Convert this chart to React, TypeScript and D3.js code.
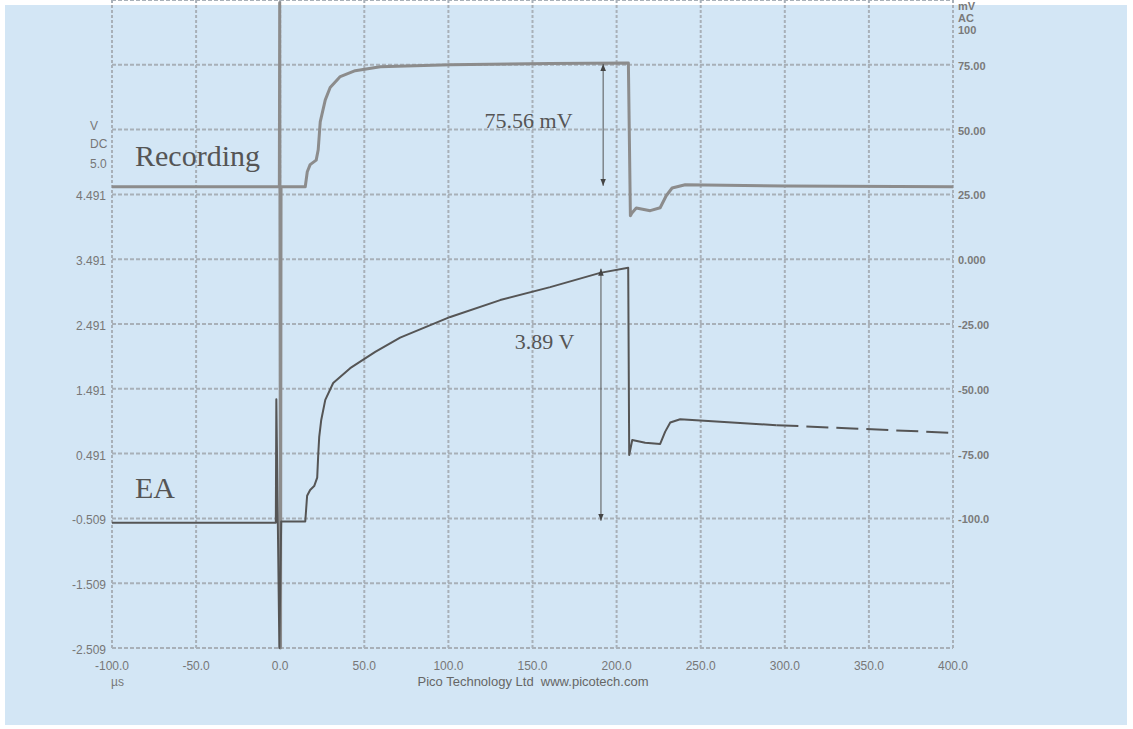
import React from 'react';
import * as d3 from 'd3';

// time axis (µs)
const timeTicks = [-100, -50, 0, 50, 100, 150, 200, 250, 300, 350, 400];
const timeTickLabels = ['-100.0', '-50.0', '0.0', '50.0', '100.0', '150.0', '200.0', '250.0', '300.0', '350.0', '400.0'];

// voltage grid (left axis, V)
const voltGrid = [7.491, 6.491, 5.491, 4.491, 3.491, 2.491, 1.491, 0.491, -0.509, -1.509, -2.509];
const leftTickValues = [4.491, 3.491, 2.491, 1.491, 0.491, -0.509, -1.509, -2.509];
const leftTickLabels = ['4.491', '3.491', '2.491', '1.491', '0.491', '-0.509', '-1.509', '-2.509'];
const leftHeader = ['V', 'DC', '5.0'];

// right axis (second channel) - barely legible in the source
const rightTickValues = [6.491, 5.491, 4.491, 3.491, 2.491, 1.491, 0.491, -0.509];
const rightTickLabels = ['75.00', '50.00', '25.00', '0.000', '-25.00', '-50.00', '-75.00', '-100.0'];
const rightHeader = ['mV', 'AC', '100'];

// Recording trace, plotted on the left grid
const recordingTimes = [-100, -0.5, -0.3, 0.2, 0.5, 14.9, 16.1, 17.8, 21.4, 22.6, 23.8, 26.8, 29.7, 35.7, 44.6, 59.5, 101, 160.5, 207, 208.2, 209, 211.7, 220, 225.9, 229.5, 233, 240.8, 300, 400];
const recordingVolts = [4.608, 4.608, 7.45, -2.509, 4.608, 4.608, 4.84, 4.95, 5.02, 5.18, 5.61, 5.95, 6.14, 6.31, 6.40, 6.46, 6.49, 6.51, 6.52, 4.16, 4.2, 4.28, 4.24, 4.285, 4.47, 4.59, 4.64, 4.62, 4.608];

// EA trace
const eaTimes = [-100, -2.6, -2.3, -0.5, 0.6, 14.9, 16, 17.8, 20.2, 22, 22.6, 23.2, 24.4, 26.8, 31.5, 41.6, 56.5, 71.3, 101.1, 130.8, 160.5, 190.2, 206.9, 207.5, 209.3, 217, 225.9, 228.9, 231.9, 237.8, 249.7, 295];
const eaVolts = [-0.577, -0.577, 1.33, -2.509, -0.557, -0.557, -0.16, -0.07, -0.01, 0.12, 0.47, 0.75, 1.01, 1.32, 1.58, 1.81, 2.06, 2.28, 2.60, 2.86, 3.06, 3.28, 3.36, 0.47, 0.70, 0.66, 0.64, 0.83, 0.97, 1.02, 1.00, 0.93];
const eaTailTimes = [295, 340, 400];
const eaTailVolts = [0.93, 0.88, 0.81];

// measurement annotations
const annotTimes = [192, 190.7];
const annotTop = [6.52, 3.36];
const annotBottom = [4.608, -0.56];
const annotLabels = ['75.56 mV', '3.89 V'];
const annotLabelTimes = [121.5, 139.5];
const annotLabelVolts = [5.51, 2.1];

const W = 1133;
const H = 729;
const x = d3.scaleLinear().domain([-100, 400]).range([112, 953]);
const y = d3.scaleLinear().domain([-2.509, 7.491]).range([648, 0]);

const sans = '"Liberation Sans", Arial, sans-serif';
const serif = '"Liberation Serif", "Times New Roman", serif';

const line = d3.line<[number, number]>().x(d => x(d[0])).y(d => y(d[1]));
const zip = (a: number[], b: number[]) => a.map((t, i) => [t, b[i]] as [number, number]);

export default function App() {
  const gridColor = '#a8b0b8';
  return (
    <svg width={W} height={H} style={{position: 'absolute', left: 0, top: 0}}>
      <defs>
        <marker id="ah" viewBox="0 0 10 10" refX="10" refY="5" markerWidth="7" markerHeight="9" orient="auto-start-reverse" markerUnits="userSpaceOnUse">
          <path d="M0,1 L10,5 L0,9 Z" fill="#444" />
        </marker>
      </defs>
      <rect x={0} y={0} width={W} height={H} fill="#ffffff" />
      <rect x={5} y={5} width={1122} height={720} fill="#d3e6f5" />

      {/* grid */}
      <g>
        {timeTicks.map(t => (
          <line key={'v' + t} x1={x(t)} x2={x(t)} y1={y(7.491)} y2={y(-2.509)}
            stroke={gridColor} strokeWidth={2} strokeDasharray="3 2" />
        ))}
        {voltGrid.map(v => (
          <line key={'h' + v} x1={x(-100)} x2={x(400)} y1={y(v)} y2={y(v)}
            stroke={gridColor} strokeWidth={2} strokeDasharray="4 2" />
        ))}
      </g>

      {/* left axis */}
      <g fontFamily={sans} fontSize={12} fill="#777">
        {leftTickValues.map((v, i) => (
          <text key={v} x={106} y={y(v) + 6} textAnchor="end">{leftTickLabels[i]}</text>
        ))}
        {leftHeader.map((s, i) => (
          <text key={s} x={90} y={130 + i * 18 + (i === 2 ? 2 : 0)}>{s}</text>
        ))}
      </g>

      {/* right axis */}
      <g fontFamily={sans} fontSize={11} fill="#7a7a7a" fontWeight="bold">
        {rightTickValues.map((v, i) => (
          <text key={v} x={958} y={y(v) + 5}>{rightTickLabels[i]}</text>
        ))}
        {rightHeader.map((s, i) => (
          <text key={s} x={958} y={10 + i * 12}>{s}</text>
        ))}
      </g>

      {/* bottom axis */}
      <g fontFamily={sans} fontSize={12} fill="#777">
        {timeTicks.map((t, i) => (
          <text key={t} x={x(t)} y={670} textAnchor="middle">{timeTickLabels[i]}</text>
        ))}
        <text x={111} y={686}>µs</text>
        <text x={533} y={686} textAnchor="middle" fontSize={13} fill="#666">{'Pico Technology Ltd\u00a0\u00a0www.picotech.com'}</text>
      </g>

      {/* traces */}
      <path d={line(zip(recordingTimes, recordingVolts)) || ''} fill="none" stroke="#8c8c8c" strokeWidth={3} strokeLinejoin="round" />
      <path d={line(zip(eaTimes, eaVolts)) || ''} fill="none" stroke="#555" strokeWidth={2} strokeLinejoin="round" />
      <path d={line(zip(eaTailTimes, eaTailVolts)) || ''} fill="none" stroke="#555" strokeWidth={2} strokeDasharray="22 8" />

      {/* annotations */}
      {annotTimes.map((t, i) => (
        <g key={'a' + i}>
          <line x1={x(t)} x2={x(t)} y1={y(annotTop[i]) + 1} y2={y(annotBottom[i]) - 1}
            stroke="#555" strokeWidth={1} markerStart="url(#ah)" markerEnd="url(#ah)" />
          <text x={x(annotLabelTimes[i])} y={y(annotLabelVolts[i])} fontFamily={serif} fontSize={22} fill="#555">{annotLabels[i]}</text>
        </g>
      ))}

      <text x={135} y={166} fontFamily={serif} fontSize={30} fill="#555">Recording</text>
      <text x={135} y={498} fontFamily={serif} fontSize={30} fill="#555">EA</text>
    </svg>
  );
}
